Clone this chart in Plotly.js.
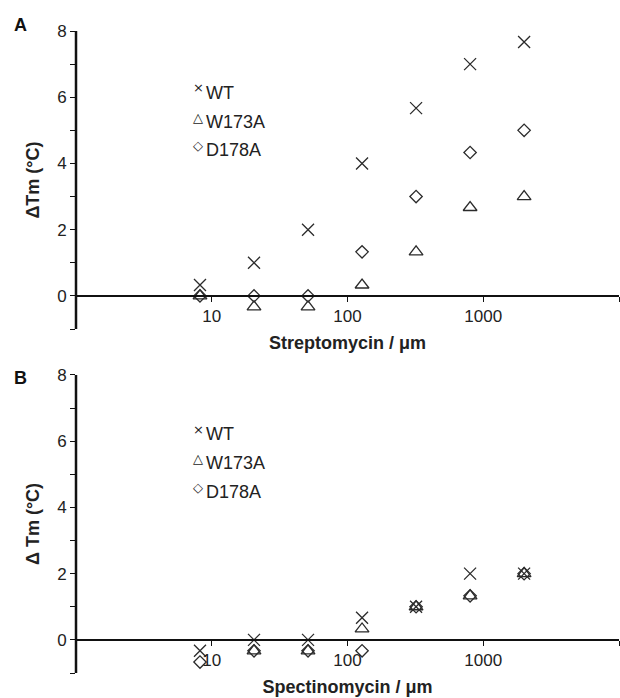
<!DOCTYPE html>
<html>
<head>
<meta charset="utf-8">
<script src="https://cdn.plot.ly/plotly-3.0.1.min.js"></script>
<style>html,body{margin:0;padding:0;background:#fff;}#chart{width:620px;height:698px;}</style>
</head>
<body>
<div id="chart"></div>
<script>
// ---- data ----
const concentrations = [8.192, 20.48, 51.2, 128, 320, 800, 2000];
const strepWT    = [0.33, 1, 2, 4, 5.67, 7, 7.67];
const strepW173A = [0, -0.33, -0.33, 0.33, 1.33, 2.67, 3];
const strepD178A = [0, 0, 0, 1.33, 3, 4.33, 5];
const spectWT    = [-0.33, 0, 0, 0.67, 1, 2, 2];
const spectW173A = [null, -0.33, -0.33, 0.33, 1, 1.33, 2];
const spectD178A = [-0.67, -0.33, -0.33, -0.33, 1, 1.33, 2];
const seriesNames = ['WT', 'W173A', 'D178A'];
const legendGlyphs = ['×', '△', '◇'];
const xTickVals = [10, 100, 1000, 10000];
const xTickText = ['10', '100', '1000', ' '];
const yTickVals = [-1, 0, 1, 2, 3, 4, 5, 6, 7, 8];
const yTickText = [' ', '0', ' ', '2', ' ', '4', ' ', '6', ' ', '8'];

// ---- styling ----
const FONT = 'Liberation Sans, Arial, sans-serif';
const ink = '#2b2b2b';
const symbols = ['x-thin-open', 'triangle-up-open', 'diamond-open'];
const sizes = [12, 12, 9.5];
const yRange = [-1, 8];
const domA = [0.5358, 1];
const domB = [0, 0.4642];
function zeroPos(dom) { return dom[0] + (0 - yRange[0]) / (yRange[1] - yRange[0]) * (dom[1] - dom[0]); }

function mk(y, i, xa, ya) {
  return {x: concentrations, y: y, type: 'scatter', mode: 'markers', name: seriesNames[i],
    xaxis: xa, yaxis: ya, showlegend: false, cliponaxis: false,
    marker: {symbol: symbols[i], size: sizes[i], color: ink, line: {color: ink, width: 1.3}}};
}
const data = [
  mk(strepWT, 0, 'x', 'y'), mk(strepW173A, 1, 'x', 'y'), mk(strepD178A, 2, 'x', 'y'),
  mk(spectWT, 0, 'x2', 'y2'), mk(spectW173A, 1, 'x2', 'y2'), mk(spectD178A, 2, 'x2', 'y2')
];

function xaxis(title, dom) {
  return {type: 'log', range: [0, 4], anchor: 'free', position: zeroPos(dom),
    showline: true, linewidth: 2, linecolor: '#111', showgrid: false, zeroline: false,
    ticks: 'outside', ticklen: 5, tickwidth: 1, tickcolor: '#111',
    tickmode: 'array', tickvals: xTickVals, ticktext: xTickText,
    tickfont: {family: FONT, size: 17, color: '#222'},
    title: {text: title, font: {family: FONT, size: 18, color: '#222'}, standoff: 10}};
}
function yaxis(title, dom) {
  return {domain: dom, range: yRange, anchor: 'free', position: 0,
    showline: true, linewidth: 2, linecolor: '#111',
    showgrid: false, zeroline: false, ticks: 'outside', ticklen: 5, tickwidth: 1, tickcolor: '#111',
    tickmode: 'array', tickvals: yTickVals, ticktext: yTickText,
    tickfont: {family: FONT, size: 17, color: '#222'},
    title: {text: title, font: {family: FONT, size: 18, color: '#222'}, standoff: 12}};
}

function px2x(px) { return (px - 76) / 543; }
function py2y(py) { return (673 - py) / 642; }

const annotations = [
  {xref: 'paper', yref: 'paper', x: px2x(20), y: py2y(25), xanchor: 'center', yanchor: 'middle',
   showarrow: false, text: '<b>A</b>', font: {family: FONT, size: 18, color: '#111'}},
  {xref: 'paper', yref: 'paper', x: px2x(20), y: py2y(378), xanchor: 'center', yanchor: 'middle',
   showarrow: false, text: '<b>B</b>', font: {family: FONT, size: 18, color: '#111'}}
];
const legA = [93, 122, 150];
const legB = [434, 463, 492];
function addLegend(centers) {
  for (let i = 0; i < 3; i++) {
    annotations.push({xref: 'paper', yref: 'paper', x: px2x(198), y: py2y(centers[i] - 5), xanchor: 'center', yanchor: 'middle',
      showarrow: false, text: legendGlyphs[i], font: {family: 'DejaVu Sans, sans-serif', size: 13, color: '#222'}});
    annotations.push({xref: 'paper', yref: 'paper', x: px2x(204), y: py2y(centers[i]), xanchor: 'left', yanchor: 'middle',
      showarrow: false, text: seriesNames[i], font: {family: FONT, size: 18, color: '#222'}});
  }
}
addLegend(legA);
addLegend(legB);

// vertical axis spines (y-axis lines of both panels)
const shapes = [
  {type: 'line', xref: 'paper', yref: 'paper', x0: 0, x1: 0, y0: domA[0], y1: domA[1], line: {color: '#111', width: 2.5}},
  {type: 'line', xref: 'paper', yref: 'paper', x0: 0, x1: 0, y0: domB[0], y1: domB[1], line: {color: '#111', width: 2.5}}
];

const layout = {
  width: 620, height: 698, margin: {l: 76, r: 1, t: 31, b: 25},
  paper_bgcolor: '#fff', plot_bgcolor: '#fff', showlegend: false,
  font: {family: FONT, color: '#222'},
  xaxis: xaxis('<b>Streptomycin / μm</b>', domA), yaxis: yaxis('<b>ΔTm (°C)</b>', domA),
  xaxis2: xaxis('<b>Spectinomycin / μm</b>', domB), yaxis2: yaxis('<b>Δ Tm (°C)</b>', domB),
  annotations: annotations, shapes: shapes
};
Plotly.newPlot('chart', data, layout, {displayModeBar: false, staticPlot: true});
</script>
</body>
</html>
